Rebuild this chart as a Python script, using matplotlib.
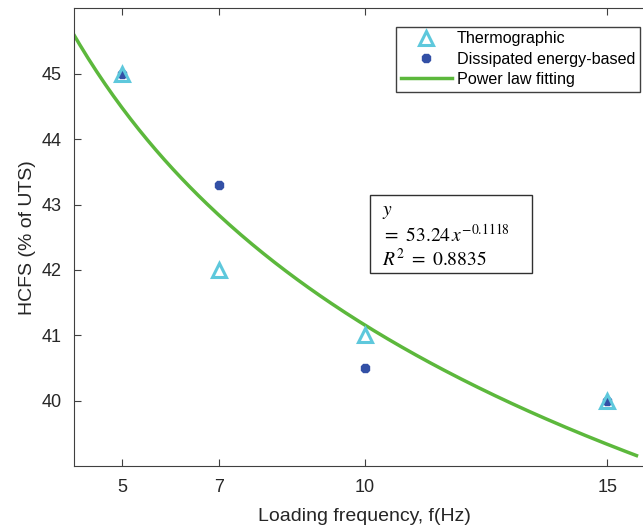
import numpy as np
import matplotlib.pyplot as plt
from matplotlib.patches import Rectangle

plt.rcParams['font.family'] = ['Liberation Sans', 'DejaVu Sans']
plt.rcParams['mathtext.fontset'] = 'stix'

# Data
freq = [5, 7, 10, 15]
thermographic = [45.0, 42.0, 41.0, 40.0]
dissipated = [45.0, 43.3, 40.5, 40.0]

# Power law fit y = a * x^b
fit_a = 53.24
fit_b = -0.1118
fit_r2 = 0.8835

fig = plt.figure(figsize=(6.43, 5.29), dpi=100)
ax = fig.add_axes([0.115, 0.119, 0.905, 0.865])

x_fit = np.linspace(4, 15.6, 200)
ax.plot(x_fit, fit_a * x_fit**fit_b, color='#5cb83c', lw=2.5, label='Power law fitting', zorder=2)
ax.plot(freq, dissipated, ls='none', marker='8', ms=7, color='#3350a6',
        label='Dissipated energy-based', zorder=3)
ax.plot(freq, thermographic, ls='none', marker='^', ms=9.5, mfc='none', mec='#5ec8dc',
        mew=2.2, label='Thermographic', zorder=4)

ax.set_xlim(4, 16)
ax.set_ylim(39, 46)
ax.set_xticks(freq)
ax.set_yticks([40, 41, 42, 43, 44, 45])
ax.tick_params(direction='in', labelsize=13, length=5, color='#404040', labelcolor='#262626',
               top=True, right=False, pad=9)
for side in ['left', 'bottom', 'top']:
    ax.spines[side].set_color('#404040')
ax.spines['right'].set_visible(False)

ax.set_xlabel('Loading frequency, f(Hz)', fontsize=14, labelpad=9, color='#262626')
ax.set_ylabel('HCFS (% of UTS)', fontsize=14, labelpad=4, color='#262626')

handles, labels = ax.get_legend_handles_labels()
order = [2, 1, 0]
leg = ax.legend([handles[i] for i in order], [labels[i] for i in order],
                loc='upper right', bbox_to_anchor=(0.987, 0.978), fontsize=11.6,
                fancybox=False, edgecolor='#404040', framealpha=1,
                handlelength=3.2, borderpad=0.3, labelspacing=0.32, handletextpad=0.3)
leg.get_frame().set_linewidth(1.0)

# equation box
ax.add_patch(Rectangle((10.1, 41.96), 3.34, 1.19, fc='white', ec='#303030', lw=1.0, zorder=5))
ax.text(10.35, 42.5, '$y$\n$=\\ 53.24\\,x^{-0.1118}$\n$R^2\\ =\\ %.4f$' % fit_r2,
        fontsize=14, va='center', ha='left', linespacing=1.15, zorder=6)

fig.savefig('out.png', dpi=100)
